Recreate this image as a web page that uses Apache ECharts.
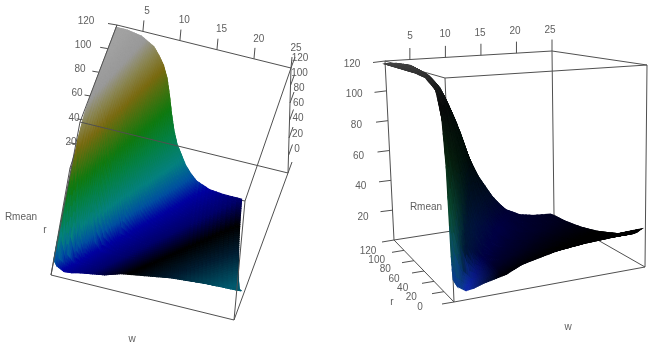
<!DOCTYPE html>
<html><head><meta charset="utf-8">
<style>html,body{margin:0;padding:0;background:#fff}#c{width:664px;height:356px;filter:blur(0.55px)}</style>
<script src="https://cdn.jsdelivr.net/npm/echarts@6/dist/echarts.min.js"></script>
</head><body><div id="c"></div>
<script>
// Values
const wValues=[1.5,2,3,4,5,6,7,8,9,10,11,12,13,14,15,16,17,18,20,22,24.5];
const rValues=[0,2,5,10,20,40,60,80,100,120];
const rmeanW1p5=[12,24,72,98,112,117,118,118,118,118];
const rmeanW2=[8,12,48,82,108,117,118,118,118,118];
const rmeanW3=[5,8,14,50,88,110,116,118,118,118];
const rmeanW4=[5.5,6.5,9,20,64,99,111,115,117,117];
const rmeanW5=[7,7.5,9,12,33,80,102,111,114,116];
const rmeanW6=[8,8,9,11,18,66,92,105,111,113];
const rmeanW7=[9,9,9.5,10.5,12,43,75,94,104,110];
const rmeanW8=[10,10,10,11,12,27,58,82,97,104];
const rmeanW9=[12,12,11.5,11,12,15,40,66,84,97];
const rmeanW10=[14,13.5,13,12.5,12,13,28,50,72,87];
const rmeanW11=[15,15,14,13,12,12,18,35,56,74];
const rmeanW12=[16,16,15,14,13,11,13,26,42,60];
const rmeanW13=[17,17,16,14.5,13,11,10,18,31,47];
const rmeanW14=[18,18,16.5,15,13.5,11,9,13,23,36];
const rmeanW15=[19,19,17,16,14,11,8,9,16,28];
const rmeanW16=[20,19.5,17.5,16.5,14.5,11,8,7,12,20];
const rmeanW17=[20.5,20,18,17,15,11,8,6,8,14];
const rmeanW18=[21,20,18.5,17.5,15,11,7.5,5,5,9];
const rmeanW20=[22,21,19,18,15,11,7,4,3,4];
const rmeanW22=[22.5,21.5,19.5,18,15,11,7,4,2,2];
const rmeanW25=[23,22,20,18,15,11,7,4,2,1];
const rmean=[rmeanW1p5,rmeanW2,rmeanW3,rmeanW4,rmeanW5,rmeanW6,rmeanW7,rmeanW8,rmeanW9,rmeanW10,rmeanW11,rmeanW12,rmeanW13,rmeanW14,rmeanW15,rmeanW16,rmeanW17,rmeanW18,rmeanW20,rmeanW22,rmeanW25];
const wTicks=[5,10,15,20,25];
const zTicks=[120,100,80,60,40,20];
const rTicks=[120,100,80,60,40,20,0];
const wMin=1.5,wMax=25,rMax=120,zMax=120;

// View frames: box corner positions on the page for each view ([w index][r index][z index])
const leftFrame={c000:[51,275],c100:[234,320],c010:[70,168],c110:[245,201],c001:[80,122],c101:[288,173],c011:[117,25],c111:[291,68]};
const rightFrame={c000:[454,302],c100:[645,267],c010:[394,240],c110:[554,215],c001:[445,78],c101:[647,65],c011:[385,61],c111:[552,51]};

function project(f,w,r,z){
  const s=(w-wMin)/(wMax-wMin),u=r/rMax,t=z/zMax;
  const mix=(a,b,k)=>[a[0]+(b[0]-a[0])*k,a[1]+(b[1]-a[1])*k];
  const a=mix(mix(f.c000,f.c100,s),mix(f.c010,f.c110,s),u);
  const b=mix(mix(f.c001,f.c101,s),mix(f.c011,f.c111,s),u);
  return mix(a,b,t);
}
function hex(c){return [1,3,5].map(i=>parseInt(c.substr(i,2),16));}
function ramp(stops,v){
  if(v<=stops[0][0])return hex(stops[0][1]);
  for(let i=1;i<stops.length;i++){
    if(v<=stops[i][0]){
      const k=(v-stops[i-1][0])/(stops[i][0]-stops[i-1][0]),a=hex(stops[i-1][1]),b=hex(stops[i][1]);
      return a.map((x,j)=>x+(b[j]-x)*k);
    }
  }
  return hex(stops[stops.length-1][1]);
}
const css=c=>'rgb('+c.map(Math.round).join(',')+')';
const leftStops=[[60,'#a2a2a2'],[90,'#999999'],[110,'#8a8550'],[131,'#7a6a10'],[169,'#0f7a10'],[190,'#058040'],[217,'#058080'],[235,'#0050a0'],[250,'#0000a0'],[270,'#00006a'],[287,'#000000'],[305,'#001c30'],[328,'#005a6e']];
const rightEdgeStops=[[60,'#4a4a4a'],[80,'#2a2a2a'],[110,'#0a0a0a'],[170,'#0a2a10'],[220,'#0a4a30'],[255,'#0a5060'],[285,'#0a3a90']];
const rightFanStops=[[0,'#001a30'],[10,'#00143c'],[30,'#000044'],[50,'#000025'],[65,'#000000']];
function leftColor(x,y){
  const d=x-100;
  return css(ramp(leftStops,(y+1.36*d)/(1+0.0032*d)));
}
function rightColor(x,y){
  const th=Math.atan2(x-462,298-y)*180/Math.PI;
  const a=ramp(rightEdgeStops,y);
  let b=ramp(rightFanStops,th);
  if(y<230){const k=Math.min(1,(230-y)/70);b=[b[0]*(1-k),b[1]*(1-k)+10*k,b[2]*(1-k)+10*k];}
  const dist=Math.hypot(x-470,y-290);
  if(dist<35){const k=1-dist/35;b=[b[0]+16*k,b[1]+42*k,b[2]+110*k];}
  const k=Math.max(0,Math.min(1,(th+8)/12));
  return css(a.map((v,i)=>v+(b[i]-v)*k));
}

const cells=[];
for(let j=rValues.length-2;j>=0;j--)for(let i=0;i<wValues.length-1;i++)cells.push([i,j]);

function surfaceSeries(frame,colorFn){
  return {type:'custom',coordinateSystem:'cartesian2d',silent:true,animation:false,
    data:cells,clip:false,
    renderItem(p,api){
      const i=api.value(0),j=api.value(1);
      const nw=4,nr=rValues[j+1]-rValues[j]>=10?8:3;
      const children=[];
      const at=(a,b)=>{
        const w=wValues[i]+(wValues[i+1]-wValues[i])*a,r=rValues[j]+(rValues[j+1]-rValues[j])*b;
        const z0=rmean[i][j]+(rmean[i+1][j]-rmean[i][j])*a,z1=rmean[i][j+1]+(rmean[i+1][j+1]-rmean[i][j+1])*a;
        return project(frame,w,r,z0+(z1-z0)*b);
      };
      for(let b=nr-1;b>=0;b--)for(let a=0;a<nw;a++){
        const q=[at(a/nw,b/nr),at((a+1)/nw,b/nr),at((a+1)/nw,(b+1)/nr),at(a/nw,(b+1)/nr)];
        const cx=(q[0][0]+q[1][0]+q[2][0]+q[3][0])/4,cy=(q[0][1]+q[1][1]+q[2][1]+q[3][1])/4;
        const col=colorFn(cx,cy);
        children.push({type:'polygon',shape:{points:q.map(pt=>api.coord(pt))},style:{fill:col,stroke:col,lineWidth:1.1}});
      }
      return {type:'group',children};
    }};
}
function lineSeries(segs,color){
  return {type:'custom',coordinateSystem:'cartesian2d',silent:true,animation:false,clip:false,
    data:segs.map((s,i)=>[i]),
    renderItem(p,api){
      const s=segs[api.value(0)];
      const a=api.coord(s[0]),b=api.coord(s[1]);
      return {type:'line',shape:{x1:a[0],y1:a[1],x2:b[0],y2:b[1]},style:{stroke:color,lineWidth:1}};
    }};
}
function textSeries(items){
  return {type:'custom',coordinateSystem:'cartesian2d',silent:true,animation:false,clip:false,
    data:items.map((s,i)=>[i]),
    renderItem(p,api){
      const t=items[api.value(0)],a=api.coord(t.at);
      return {type:'text',x:a[0],y:a[1],style:{text:t.text,fill:'#606060',font:'10px "Liberation Sans"',align:'center',verticalAlign:'middle'}};
    }};
}
const lerp=(a,b,k)=>[a[0]+(b[0]-a[0])*k,a[1]+(b[1]-a[1])*k];
const edge=(f,a,b)=>{const q=k=>project(f,k[0]?wMax:wMin,k[1]?rMax:0,k[2]?zMax:0);return [q(a),q(b)];};
const off=(p,d)=>[p,[p[0]+d[0],p[1]+d[1]]];
const lc='#505050';

// Left view
const L=leftFrame;
const leftBack=[edge(L,[0,1,1],[0,1,0]),edge(L,[0,1,0],[0,0,0]),edge(L,[0,1,0],[1,1,0]),edge(L,[1,1,0],[1,1,1]),
  ...zTicks.map(z=>off(project(L,wMin,rMax,z),[-9,-1.5]))];
const leftFront=[edge(L,[0,1,1],[1,1,1]),edge(L,[0,1,1],[0,0,1]),edge(L,[0,0,1],[1,0,1]),edge(L,[0,0,1],[0,0,0]),edge(L,[1,1,1],[1,0,1]),edge(L,[1,0,1],[1,0,0]),edge(L,[0,0,0],[1,0,0]),edge(L,[1,1,0],[1,0,0]),
  ...wTicks.map(w=>off(project(L,w,rMax,zMax),[1,-11])),
  ...rTicks.map(r=>off(project(L,wMax,r,zMax),[4,-11]))];
// Right view
const R=rightFrame;
const rightBack=[edge(R,[0,1,1],[1,1,1]),edge(R,[1,1,1],[1,0,1]),edge(R,[1,0,1],[0,0,1]),edge(R,[0,0,1],[0,1,1]),edge(R,[0,1,1],[0,1,0]),edge(R,[0,0,1],[0,0,0]),edge(R,[1,1,1],[1,1,0]),edge(R,[1,0,1],[1,0,0]),edge(R,[0,1,0],[1,1,0]),edge(R,[1,1,0],[1,0,0]),
  ...wTicks.map(w=>off(project(R,w,rMax,zMax),[0,-11.5])),
  ...zTicks.map(z=>off(project(R,wMin,rMax,z),[-12,1.5])),
  ...rTicks.map(r=>off(project(R,wMin,r,0),[-12,2]))];
const rightFront=[edge(R,[1,0,0],[0,0,0]),edge(R,[0,0,0],[0,1,0])];

function tickText(values,from,to,a,b){
  return values.map(v=>({text:String(v),at:lerp(from,to,(v-a)/(b-a))}));
}
const texts=[
  ...tickText(wTicks,[147,11],[296,48],5,25),
  ...tickText(zTicks,[86,21],[71,142],120,20),
  ...tickText(rTicks,[300,58],[297,149],120,0),
  {text:'Rmean',at:[21,217]},{text:'r',at:[45,230]},{text:'w',at:[132,339]},
  ...tickText(wTicks,[410,36],[550,30],5,25),
  ...tickText(zTicks,[352,64],[363,217],120,20),
  ...tickText(rTicks,[368,251],[420,307],120,0),
  {text:'Rmean',at:[426,207]},{text:'r',at:[392,302]},{text:'w',at:[568,327]}
];

const chart=echarts.init(document.getElementById('c'),null,{renderer:'canvas'});
chart.setOption({
  animation:false,backgroundColor:'#fff',
  grid:{left:0,top:0,right:0,bottom:0},
  xAxis:{type:'value',min:0,max:664,show:false},
  yAxis:{type:'value',min:0,max:356,inverse:true,show:false},
  series:[
    lineSeries(leftBack,lc),surfaceSeries(L,leftColor),lineSeries(leftFront,lc),
    lineSeries(rightBack,lc),surfaceSeries(R,rightColor),lineSeries(rightFront,lc),
    textSeries(texts)
  ]
});
</script></body></html>
